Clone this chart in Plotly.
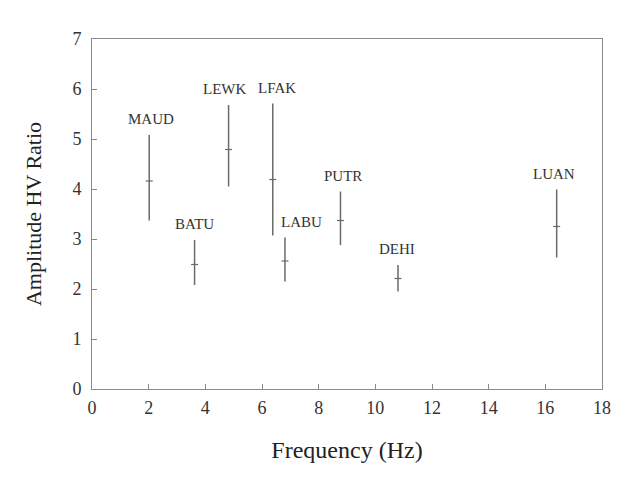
import plotly.graph_objects as go

stations = ["MAUD", "BATU", "LEWK", "LFAK", "LABU", "PUTR", "DEHI", "LUAN"]
frequency = [2.02, 3.62, 4.82, 6.38, 6.81, 8.77, 10.8, 16.4]
amp_mean = [4.16, 2.49, 4.79, 4.19, 2.56, 3.37, 2.21, 3.25]
amp_upper = [5.08, 2.98, 5.68, 5.71, 3.03, 3.95, 2.48, 3.99]
amp_lower = [3.37, 2.08, 4.05, 3.07, 2.15, 2.88, 1.95, 2.63]
label_xshift = [2, 0, -4, 4, 17, 3, -1, -3]

x_ticks = [0, 2, 4, 6, 8, 10, 12, 14, 16, 18]
y_ticks = [0, 1, 2, 3, 4, 5, 6, 7]

err_plus = [u - m for u, m in zip(amp_upper, amp_mean)]
err_minus = [m - l for m, l in zip(amp_mean, amp_lower)]

line_col = "#6a6a6a"
font_fam = "Liberation Serif, Times New Roman, serif"

fig = go.Figure()
fig.add_trace(go.Scatter(
    x=frequency, y=amp_mean, mode="markers",
    marker=dict(symbol="line-ew", size=5, line=dict(color=line_col, width=1.2)),
    error_y=dict(type="data", symmetric=False, array=err_plus, arrayminus=err_minus,
                 color=line_col, thickness=1.5, width=0),
    showlegend=False, hoverinfo="skip",
))

for s, f, u, dx in zip(stations, frequency, amp_upper, label_xshift):
    fig.add_annotation(x=f, y=u, text=s, showarrow=False, xanchor="center", yanchor="bottom",
                       yshift=6, xshift=dx,
                       font=dict(family=font_fam, size=15, color="#333333"))

axis_common = dict(showline=True, mirror=True, linecolor="#8a8a8a", linewidth=1,
                   ticks="inside", ticklen=5, tickcolor="#8a8a8a", showgrid=False,
                   zeroline=False, tickfont=dict(family=font_fam, size=18, color="#333333"))

fig.update_xaxes(range=[0, 18], tickvals=x_ticks, ticktext=[str(v) for v in x_ticks],
                 ticklabelstandoff=2,
                 title=dict(text="Frequency (Hz)", font=dict(family=font_fam, size=24, color="#222222"),
                            standoff=24),
                 **axis_common)
fig.update_yaxes(range=[0, 7], tickvals=y_ticks, ticktext=[str(v) for v in y_ticks],
                 ticklabelstandoff=6,
                 title=dict(text="Amplitude HV Ratio", font=dict(family=font_fam, size=22, color="#222222"),
                            standoff=24),
                 **axis_common)

fig.update_layout(width=633, height=488, margin=dict(l=92, r=31, t=39, b=99),
                  plot_bgcolor="white", paper_bgcolor="white")

fig.write_html("out.html")
